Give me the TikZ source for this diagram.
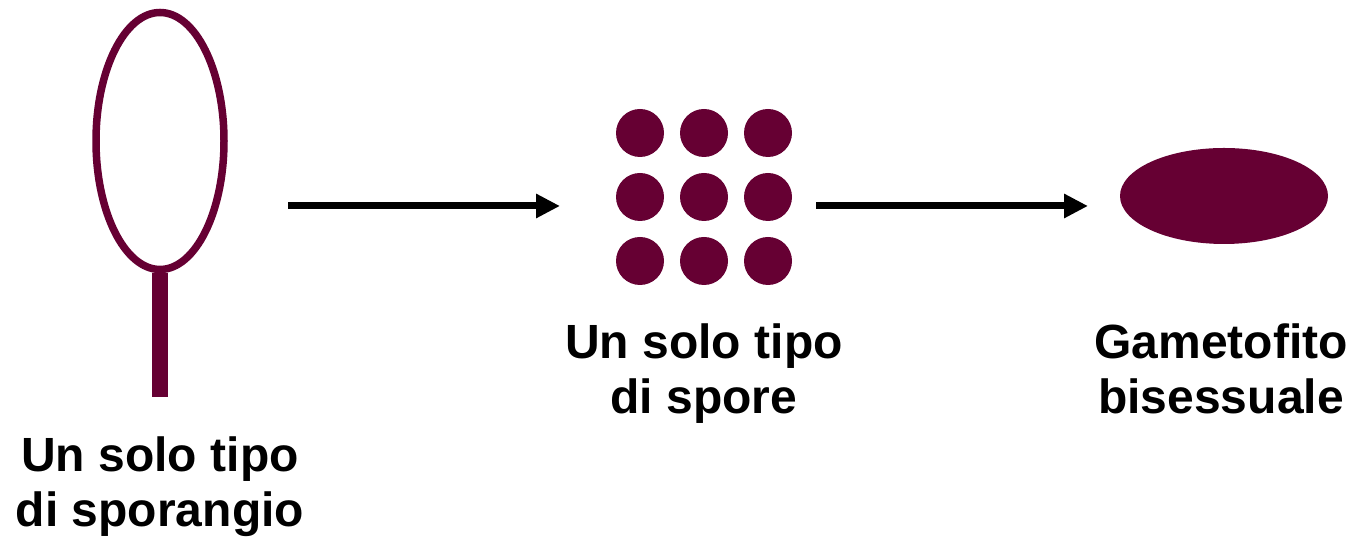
\documentclass[tikz,border=0pt]{standalone}
\usepackage{fontspec}
\setmainfont{Liberation Sans}
\usetikzlibrary{shapes.geometric,arrows.meta}

\definecolor{maroon}{HTML}{660033}

\tikzset{
  label text/.style={font=\fontsize{13.66pt}{15.7pt}\selectfont\bfseries, align=center, inner sep=0pt, anchor=north},
  spore/.style={circle, fill=maroon, inner sep=0pt, minimum size=0.48cm},
  flow/.style={line width=0.07cm, -{Triangle[length=0.24cm, width=0.23cm]}}
}

\begin{document}
\begin{tikzpicture}
\useasboundingbox (0,0) rectangle (13.53,-5.38);
% sporangio con peduncolo
\node[ellipse, draw=maroon, line width=0.075cm, inner sep=0pt, minimum width=1.28cm, minimum height=2.57cm] (spor) at (1.60,-1.41) {};
\draw[maroon, line width=0.16cm] (spor.south) -- ++(0,-1.24) coordinate (stalk);
\node[label text] (lspor) at (1.60,-4.36) {Un solo tipo\\di sporangio};
% spore
\foreach \i in {0,1,2}
  \foreach \j in {0,1,2}
    \node[spore] (s\i\j) at (6.40+0.64*\i,-1.33-0.64*\j) {};
\node[label text] (lspore) at (7.04,-3.23) {Un solo tipo\\di spore};
% gametofito
\node[ellipse, fill=maroon, inner sep=0pt, minimum width=2.08cm, minimum height=0.96cm] (gam) at (12.24,-1.96) {};
\node[label text] (lgam) at (12.21,-3.23) {Gametofito\\bisessuale};
% frecce
\coordinate (a1s) at (2.88,-2.06);
\coordinate (a1e) at (5.60,-2.06);
\coordinate (a2s) at (8.16,-2.06);
\coordinate (a2e) at (10.88,-2.06);
\draw[flow] (a1s) -- (a1e);
\draw[flow] (a2s) -- (a2e);
\end{tikzpicture}
\end{document}
